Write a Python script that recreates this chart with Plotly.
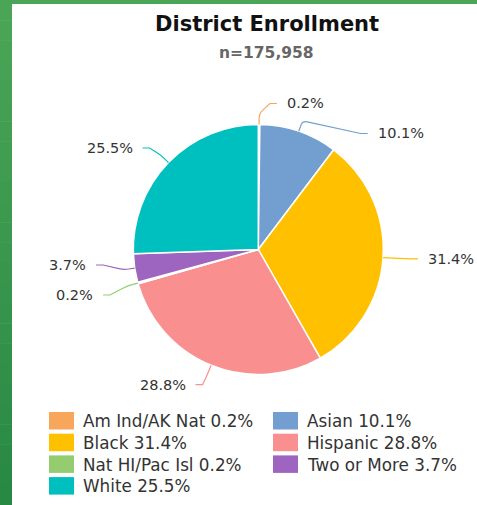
import math
import plotly.graph_objects as go

# ---------------- data ----------------
categories = ["Am Ind/AK Nat", "Asian", "Black", "Hispanic",
              "Nat HI/Pac Isl", "Two or More", "White"]
percents = [0.2, 10.1, 31.4, 28.8, 0.2, 3.7, 25.5]
colors = ["#f7a65c", "#729fcf", "#ffc000", "#f98f8f",
          "#93cd70", "#9e65c0", "#00bfbf"]
title_text = "District Enrollment"
subtitle_text = "n=175,958"

# ---------------- geometry ----------------
W, H = 477, 505
CX, CY, R = 258.3, 249.5, 125
FONT = "DejaVu Sans"


def px(x):
    return x / W


def py(y):
    return 1 - y / H


shapes = []
annotations = []

# card frame (green border on top / left)
shapes.append(dict(type="rect", xref="paper", yref="paper", x0=0, x1=1, y0=py(4), y1=1,
                   fillcolor="#4aa656", line=dict(width=0), layer="below"))
n_seg = 25
top_c = (74, 166, 86)
bot_c = (40, 137, 68)
for k in range(n_seg):
    t = k / (n_seg - 1)
    c = tuple(int(round(top_c[j] + (bot_c[j] - top_c[j]) * t)) for j in range(3))
    y0 = k * H / n_seg
    y1 = (k + 1) * H / n_seg + 0.5
    shapes.append(dict(type="rect", xref="paper", yref="paper", x0=0, x1=px(12),
                       y0=py(min(y1, H)), y1=py(y0),
                       fillcolor="rgb(%d,%d,%d)" % c, line=dict(width=0), layer="below"))

# ---------------- pie ----------------
fig = go.Figure(go.Pie(
    values=percents,
    labels=categories,
    sort=False,
    direction="clockwise",
    rotation=0,
    marker=dict(colors=colors, line=dict(color="white", width=1.5)),
    textinfo="none",
    hoverinfo="label+percent",
    domain=dict(x=[px(CX - R), px(CX + R)], y=[py(CY + R), py(CY - R)]),
    showlegend=False,
))

# ---------------- outside labels with connectors ----------------
total = sum(percents)
cum = 0.0
labels = []
RY, RX, RYX, SPACING = 146, 160, 147, 30
for i, v in enumerate(percents):
    th = (cum + v / 2) / total * 2 * math.pi
    cum += v
    side = 1 if math.sin(th) >= 0 else -1
    y_nat = CY - RY * math.cos(th)
    labels.append(dict(i=i, th=th, side=side, y=y_nat, y_nat=y_nat))

for side in (1, -1):
    group = sorted([l for l in labels if l["side"] == side], key=lambda l: l["y"])
    for _ in range(200):
        moved = False
        for a, b in zip(group, group[1:]):
            gap = b["y"] - a["y"]
            if gap < SPACING - 0.01:
                d = (SPACING - gap) / 2
                a["y"] -= d
                b["y"] += d
                moved = True
        for l in group:
            l["y"] = min(max(l["y"], CY - RY), CY + RY)
        if not moved:
            break


def toward(ax, ay, tx, ty, d):
    L = math.hypot(tx - ax, ty - ay) or 1
    d = min(d, L / 2)
    return ax + (tx - ax) / L * d, ay + (ty - ay) / L * d


for l in labels:
    i, th, side, y = l["i"], l["th"], l["side"], l["y"]
    dy = (y - CY) / RYX
    xe = RX * math.sqrt(max(0.0, 1 - dy * dy)) + 0.5 * abs(y - l["y_nat"])
    ex, ey = CX + side * xe, y
    hx, hy = ex - side * 7, y
    bx, by = CX + (R + 11) * math.sin(th), CY - (R + 11) * math.cos(th)
    p0x, p0y = CX + R * math.sin(th), CY - R * math.cos(th)
    b1 = toward(bx, by, hx, hy, 5)
    b2 = toward(bx, by, p0x, p0y, 5)
    path = "M %f,%f L %f,%f L %f,%f Q %f,%f %f,%f L %f,%f" % (
        px(ex), py(ey), px(hx), py(hy), px(b1[0]), py(b1[1]),
        px(bx), py(by), px(b2[0]), py(b2[1]), px(p0x), py(p0y))
    shapes.append(dict(type="path", xref="paper", yref="paper", path=path,
                       line=dict(color=colors[i], width=1.2)))
    annotations.append(dict(
        x=px(ex + side * 8), y=py(ey), xref="paper", yref="paper",
        text="%s%%" % percents[i], showarrow=False,
        xanchor="left" if side > 0 else "right", yanchor="middle",
        font=dict(family=FONT, size=14.5, color="#333333")))

# ---------------- legend (two columns) ----------------
LEG_X = [49, 273]
LEG_Y0 = 412
ROW = 21.7
SW_W, SW_H = 25, 17.5
for i, (c, v, col) in enumerate(zip(categories, percents, colors)):
    r, cc = divmod(i, 2)
    x0 = LEG_X[cc]
    y0 = LEG_Y0 + r * ROW
    shapes.append(dict(type="rect", xref="paper", yref="paper",
                       x0=px(x0), x1=px(x0 + SW_W), y0=py(y0 + SW_H), y1=py(y0),
                       fillcolor=col, line=dict(width=0)))
    annotations.append(dict(
        x=px(x0 + 32), y=py(y0 + SW_H / 2 + 0.5), xref="paper", yref="paper",
        text="%s %s%%" % (c, v), showarrow=False, xanchor="left", yanchor="middle",
        font=dict(family=FONT, size=16.8, color="#333333")))

# ---------------- titles ----------------
annotations.append(dict(x=px(266.5), y=py(23.5), xref="paper", yref="paper",
                        text="<b>%s</b>" % title_text, showarrow=False,
                        xanchor="center", yanchor="middle",
                        font=dict(family=FONT, size=21, color="#111111")))
annotations.append(dict(x=px(266), y=py(53), xref="paper", yref="paper",
                        text="<b>%s</b>" % subtitle_text, showarrow=False,
                        xanchor="center", yanchor="middle",
                        font=dict(family=FONT, size=15.5, color="#666666")))

fig.update_layout(
    width=W, height=H,
    margin=dict(l=0, r=0, t=0, b=0),
    paper_bgcolor="white",
    plot_bgcolor="white",
    showlegend=False,
    shapes=shapes,
    annotations=annotations,
)

fig.write_html("out.html", config={"displayModeBar": False},
               post_script="document.body.style.margin='0';document.body.style.overflow='hidden';")
